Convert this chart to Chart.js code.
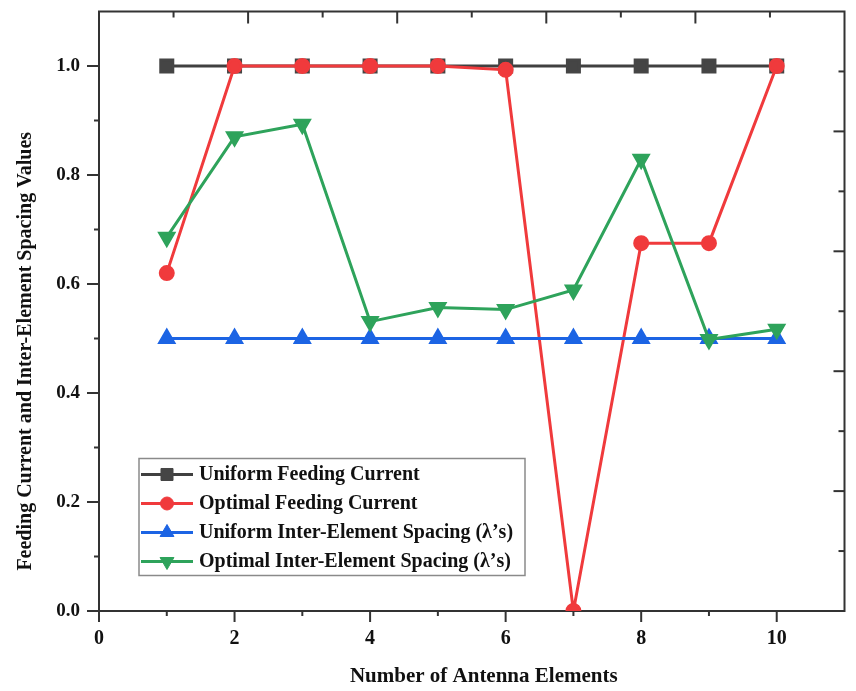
<!DOCTYPE html>
<html>
<head>
<meta charset="utf-8">
<script src="https://cdn.jsdelivr.net/npm/chart.js@4.4.0/dist/chart.umd.min.js"></script>
<style>
html, body { margin: 0; padding: 0; background: #fff; }
</style>
</head>
<body>
<canvas id="lineChart" width="856" height="691"></canvas>
<script>
const elements = [1, 2, 3, 4, 5, 6, 7, 8, 9, 10];
const uniformCurrent = [1, 1, 1, 1, 1, 1, 1, 1, 1, 1];
const optimalCurrent = [0.62, 1, 1, 1, 1, 0.993, 0, 0.675, 0.675, 1];
const uniformSpacing = [0.5, 0.5, 0.5, 0.5, 0.5, 0.5, 0.5, 0.5, 0.5, 0.5];
const optimalSpacing = [0.686, 0.870, 0.893, 0.531, 0.557, 0.553, 0.589, 0.829, 0.498, 0.517];
const xTicks = [0, 2, 4, 6, 8, 10];
const yTicks = [0, 0.2, 0.4, 0.6, 0.8, 1.0];

const serif = 'Liberation Serif';
const points = arr => arr.map((v, i) => ({ x: elements[i], y: v }));

// frame + Origin-like ticks (outside on left/bottom, inside on top/right)
const frame = {
    id: 'frame',
    beforeDatasetsDraw(chart) {
        const { ctx, chartArea: a, scales } = chart;
        ctx.save();
        ctx.strokeStyle = '#333';
        ctx.lineWidth = 2;
        ctx.strokeRect(a.left, a.top, a.right - a.left, a.bottom - a.top);
        const tick = (x1, y1, x2, y2) => {
            ctx.beginPath(); ctx.moveTo(x1, y1); ctx.lineTo(x2, y2); ctx.stroke();
        };
        for (let v = 0; v <= 10; v++) {
            const y = scales.y.getPixelForValue(v / 10);
            tick(a.left, y, a.left - (v % 2 ? 5 : 12), y);
        }
        for (let v = 0; v <= 10; v++) {
            const x = scales.x.getPixelForValue(v);
            tick(x, a.bottom, x, a.bottom + (v % 2 ? 5 : 11));
        }
        for (let v = 1; v <= 9; v++) {
            const x = scales.x2.getPixelForValue(v);
            tick(x, a.top, x, a.top + (v % 2 ? 6 : 12));
            const y = scales.y2.getPixelForValue(v / 10);
            tick(a.right, y, a.right - (v % 2 ? 6 : 11), y);
        }
        ctx.restore();
    },
    afterDraw(chart) {
        const { ctx, chartArea: a } = chart;
        ctx.save();
        ctx.fillStyle = '#111';
        ctx.textAlign = 'center';
        ctx.textBaseline = 'middle';
        ctx.font = 'bold 21px "' + serif + '"';
        ctx.fillText('Number of Antenna Elements', (a.left + a.right) / 2 + 12, a.bottom + 66);
        ctx.translate(26, (a.top + a.bottom) / 2 + 40);
        ctx.rotate(-Math.PI / 2);
        ctx.font = 'bold 20px "' + serif + '"';
        ctx.fillText('Feeding Current and Inter-Element Spacing Values', 0, 0);
        ctx.restore();

        // legend box
        const bx = a.left + 40, by = a.top + 447, bw = 386, bh = 117;
        ctx.save();
        ctx.fillStyle = '#fff';
        ctx.fillRect(bx, by, bw, bh);
        ctx.strokeStyle = '#8a8a8a';
        ctx.lineWidth = 1.5;
        ctx.strokeRect(bx, by, bw, bh);
        ctx.font = 'bold 20px "' + serif + '"';
        ctx.textAlign = 'left';
        ctx.textBaseline = 'middle';
        chart.data.datasets.forEach((ds, i) => {
            const y = by + 16 + i * 29;
            ctx.strokeStyle = ds.borderColor;
            ctx.lineWidth = ds.borderWidth;
            ctx.beginPath(); ctx.moveTo(bx + 2, y); ctx.lineTo(bx + 54, y); ctx.stroke();
            ctx.fillStyle = ds.pointBackgroundColor;
            ctx.strokeStyle = ds.pointBackgroundColor;
            ctx.lineWidth = 1;
            Chart.helpers.drawPoint(ctx, {
                pointStyle: ds.pointStyle, rotation: ds.pointRotation || 0,
                radius: ds.pointRadius, borderWidth: 1
            }, bx + 28, y);
            ctx.fillStyle = '#111';
            ctx.fillText(ds.label, bx + 60, y);
        });
        ctx.restore();
    }
};

const ctx = document.getElementById('lineChart').getContext('2d');
new Chart(ctx, {
    type: 'line',
    data: {
        datasets: [{
            label: 'Uniform Feeding Current',
            data: points(uniformCurrent),
            borderColor: '#404040',
            pointBackgroundColor: '#454545',
            pointBorderColor: '#454545',
            borderWidth: 3,
            pointStyle: 'rect',
            pointRadius: 8.5,
            order: 4
        }, {
            label: 'Optimal Feeding Current',
            data: points(optimalCurrent),
            borderColor: '#f03a3c',
            pointBackgroundColor: '#f03a3c',
            pointBorderColor: '#f03a3c',
            borderWidth: 3,
            pointStyle: 'circle',
            pointRadius: 6.5,
            order: 3
        }, {
            label: 'Uniform Inter-Element Spacing (\u03bb\u2019s)',
            data: points(uniformSpacing),
            borderColor: '#1c64e4',
            pointBackgroundColor: '#1c64e4',
            pointBorderColor: '#1c64e4',
            borderWidth: 3,
            pointStyle: 'triangle',
            pointRadius: 8,
            order: 2
        }, {
            label: 'Optimal Inter-Element Spacing (\u03bb\u2019s)',
            data: points(optimalSpacing),
            borderColor: '#2ea35b',
            pointBackgroundColor: '#2ea35b',
            pointBorderColor: '#2ea35b',
            borderWidth: 3,
            pointStyle: 'triangle',
            pointRotation: 180,
            pointRadius: 8,
            order: 1
        }]
    },
    options: {
        responsive: false,
        animation: false,
        layout: { padding: { top: 9, right: 5 } },
        plugins: {
            legend: { display: false },
            tooltip: { enabled: false }
        },
        scales: {
            x: {
                type: 'linear',
                min: 0, max: 11,
                afterBuildTicks: s => { s.ticks = xTicks.map(v => ({ value: v })); },
                afterFit: s => { s.height = 80; s.paddingLeft = 0; s.paddingRight = 0; },
                grid: { display: false, drawTicks: false },
                border: { display: false },
                ticks: { padding: 16, autoSkip: false, maxRotation: 0, color: '#111',
                         font: { family: serif, size: 20, weight: 'bold' } }
            },
            y: {
                type: 'linear',
                min: 0, max: 1.1,
                afterBuildTicks: s => { s.ticks = yTicks.map(v => ({ value: v })); },
                afterFit: s => { s.width = 99; s.paddingTop = 0; s.paddingBottom = 0; },
                grid: { display: false, drawTicks: false },
                border: { display: false },
                ticks: { padding: 19, autoSkip: false, color: '#111',
                         callback: v => v.toFixed(1),
                         font: { family: serif, size: 19, weight: 'bold' } }
            },
            x2: { type: 'linear', position: 'top', min: 0, max: 10, display: false },
            y2: { type: 'linear', position: 'right', min: 0, max: 1, display: false }
        }
    },
    plugins: [frame]
});
</script>
</body>
</html>
